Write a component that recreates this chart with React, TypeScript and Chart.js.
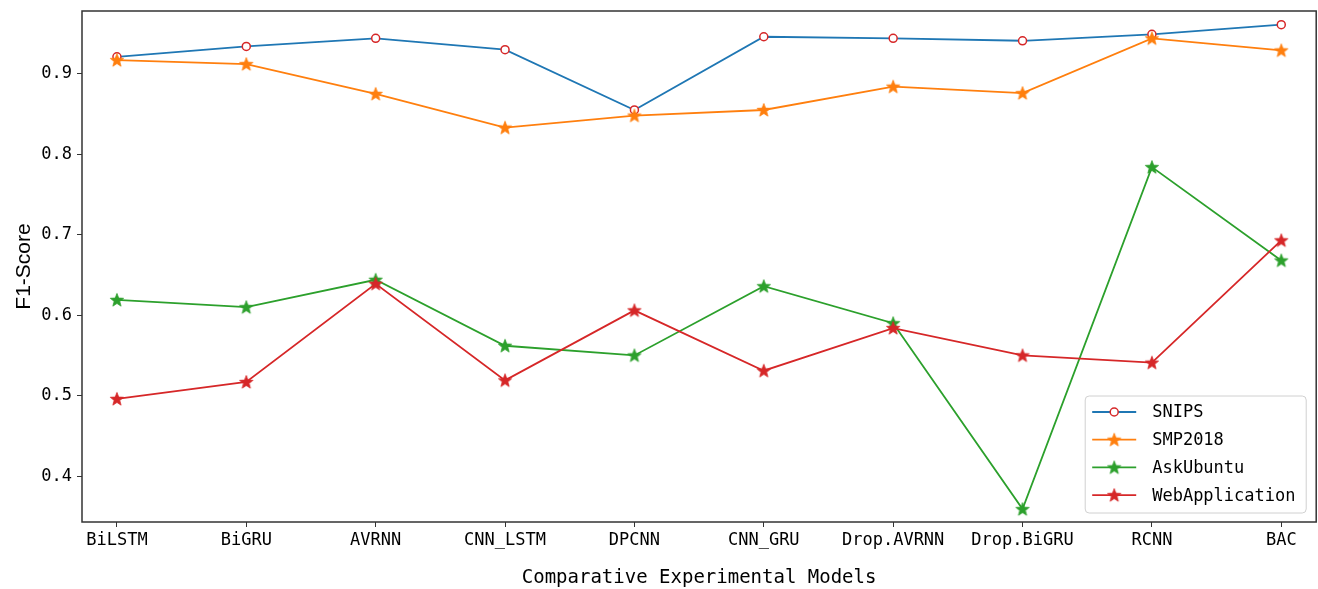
import React, { useEffect, useRef } from "react";
import { Chart, registerables } from "chart.js";

Chart.register(...registerables);

const models = ["BiLSTM", "BiGRU", "AVRNN", "CNN_LSTM", "DPCNN", "CNN_GRU", "Drop.AVRNN", "Drop.BiGRU", "RCNN", "BAC"];
const snips = [0.921, 0.934, 0.944, 0.930, 0.855, 0.946, 0.944, 0.941, 0.949, 0.961];
const smp2018 = [0.917, 0.912, 0.875, 0.833, 0.848, 0.855, 0.884, 0.876, 0.944, 0.929];
const askUbuntu = [0.619, 0.610, 0.644, 0.562, 0.550, 0.636, 0.590, 0.359, 0.784, 0.668];
const webApplication = [0.496, 0.517, 0.639, 0.519, 0.606, 0.531, 0.584, 0.550, 0.541, 0.693];
const yTicks = [0.4, 0.5, 0.6, 0.7, 0.8, 0.9];
const seriesNames = ["SNIPS", "SMP2018", "AskUbuntu", "WebApplication"];

const BLUE = "#1f77b4";
const ORANGE = "#ff7f0e";
const GREEN = "#2ca02c";
const RED = "#d62728";
const MONO = "'DejaVu Sans Mono', 'Liberation Mono', monospace";

function makeStar(color: string, r: number): HTMLCanvasElement {
  const size = Math.ceil(r * 2 + 2);
  const c = document.createElement("canvas");
  c.width = size;
  c.height = size;
  const ctx = c.getContext("2d")!;
  const cx = size / 2;
  const cy = size / 2 + 0.5;
  const ri = r * 0.42;
  ctx.beginPath();
  for (let i = 0; i < 10; i++) {
    const rad = i % 2 === 0 ? r : ri;
    const a = -Math.PI / 2 + (i * Math.PI) / 5;
    ctx.lineTo(cx + rad * Math.cos(a), cy + rad * Math.sin(a));
  }
  ctx.closePath();
  ctx.fillStyle = color;
  ctx.fill();
  ctx.strokeStyle = color;
  ctx.lineWidth = 0.8;
  ctx.stroke();
  return c;
}

export default function App() {
  const ref = useRef<HTMLCanvasElement | null>(null);
  useEffect(() => {
    document.body.style.margin = "0";
    const canvas = ref.current!;
    const starO = makeStar(ORANGE, 7);
    const starG = makeStar(GREEN, 7);
    const starR = makeStar(RED, 7);
    const pts = (arr: number[]) => arr.map((v, i) => ({ x: i, y: v }));

    const framePlugin = {
      id: "frame",
      afterDatasetsDraw(chart: any) {
        const { ctx, chartArea: a } = chart;
        ctx.save();
        ctx.strokeStyle = "#333";
        ctx.lineWidth = 1.5;
        ctx.strokeRect(a.left, a.top, a.right - a.left, a.bottom - a.top);

        // legend
        const w = 221;
        const h = 117;
        const x0 = a.right - 10 - w;
        const y0 = a.bottom - 9 - h;
        const rr = 4;
        ctx.beginPath();
        ctx.moveTo(x0 + rr, y0);
        ctx.arcTo(x0 + w, y0, x0 + w, y0 + h, rr);
        ctx.arcTo(x0 + w, y0 + h, x0, y0 + h, rr);
        ctx.arcTo(x0, y0 + h, x0, y0, rr);
        ctx.arcTo(x0, y0, x0 + w, y0, rr);
        ctx.closePath();
        ctx.fillStyle = "rgba(255,255,255,0.85)";
        ctx.fill();
        ctx.strokeStyle = "#d0d0d0";
        ctx.lineWidth = 1;
        ctx.stroke();

        const colors = [BLUE, ORANGE, GREEN, RED];
        const stars = [null, starO, starG, starR];
        for (let i = 0; i < 4; i++) {
          const y = y0 + 16 + i * 27.7;
          ctx.strokeStyle = colors[i];
          ctx.lineWidth = 1.8;
          ctx.beginPath();
          ctx.moveTo(x0 + 7, y);
          ctx.lineTo(x0 + 51, y);
          ctx.stroke();
          const mx = x0 + 29;
          if (i === 0) {
            ctx.beginPath();
            ctx.arc(mx, y, 4, 0, Math.PI * 2);
            ctx.fillStyle = "#fff";
            ctx.fill();
            ctx.strokeStyle = RED;
            ctx.lineWidth = 1.5;
            ctx.stroke();
          } else {
            const img = stars[i]!;
            ctx.drawImage(img, mx - img.width / 2, y - img.height / 2);
          }
          ctx.fillStyle = "#000";
          ctx.font = "17px " + MONO;
          ctx.textBaseline = "middle";
          ctx.textAlign = "left";
          ctx.fillText(seriesNames[i], x0 + 67, y + 1);
        }
        ctx.restore();
      },
    };

    const chart = new Chart(canvas, {
      type: "line",
      data: {
        datasets: [
          {
            label: seriesNames[0],
            data: pts(snips),
            borderColor: BLUE,
            borderWidth: 1.8,
            pointStyle: "circle",
            pointRadius: 4,
            pointBorderWidth: 1.5,
            pointBorderColor: RED,
            pointBackgroundColor: "#fff",
            order: 4,
          },
          {
            label: seriesNames[1],
            data: pts(smp2018),
            borderColor: ORANGE,
            borderWidth: 1.8,
            pointStyle: starO,
            order: 3,
          },
          {
            label: seriesNames[2],
            data: pts(askUbuntu),
            borderColor: GREEN,
            borderWidth: 1.8,
            pointStyle: starG,
            order: 2,
          },
          {
            label: seriesNames[3],
            data: pts(webApplication),
            borderColor: RED,
            borderWidth: 1.8,
            pointStyle: starR,
            order: 1,
          },
        ] as any,
      },
      options: {
        responsive: false,
        animation: false,
        devicePixelRatio: 1,
        layout: { padding: { left: 0, right: 1, top: 11, bottom: 0 } },
        plugins: { legend: { display: false }, tooltip: { enabled: false } },
        elements: { line: { tension: 0, fill: false } },
        scales: {
          x: {
            type: "linear",
            min: -0.27,
            max: 9.27,
            afterBuildTicks: (s: any) => {
              s.ticks = models.map((_, i) => ({ value: i }));
            },
            afterFit: (s: any) => {
              s.height = 67;
              s.paddingLeft = 0;
              s.paddingRight = 0;
            },
            grid: { drawOnChartArea: false, drawTicks: true, tickLength: 5, color: "#333", lineWidth: 1 },
            border: { display: false },
            ticks: {
              autoSkip: false,
              maxRotation: 0,
              padding: 3,
              color: "#000",
              font: { family: MONO, size: 17 },
              callback: (v: any) => models[Math.round(Number(v))] ?? "",
            },
            title: {
              display: true,
              text: "Comparative Experimental Models",
              color: "#000",
              font: { family: MONO, size: 19 },
              padding: { top: 1, bottom: 0 },
            },
          },
          y: {
            type: "linear",
            min: 0.343,
            max: 0.978,
            afterBuildTicks: (s: any) => {
              s.ticks = yTicks.map((v) => ({ value: v }));
            },
            afterFit: (s: any) => {
              s.width = 82;
              s.paddingTop = 0;
              s.paddingBottom = 0;
            },
            grid: { drawOnChartArea: false, drawTicks: true, tickLength: 5, color: "#333", lineWidth: 1 },
            border: { display: false },
            ticks: {
              padding: 5,
              color: "#000",
              font: { family: MONO, size: 17 },
              callback: (v: any) => Number(v).toFixed(1),
            },
            title: {
              display: true,
              text: "F1-Score",
              color: "#000",
              font: { family: "'Liberation Sans', Arial, sans-serif", size: 21 },
              padding: { top: 12, bottom: 0 },
            },
          },
        },
      },
      plugins: [framePlugin],
    } as any);
    return () => chart.destroy();
  }, []);
  return (
    <div style={{ width: 1318, height: 589, overflow: "hidden" }}>
      <canvas ref={ref} width={1322} height={589} style={{ display: "block" }} />
    </div>
  );
}
